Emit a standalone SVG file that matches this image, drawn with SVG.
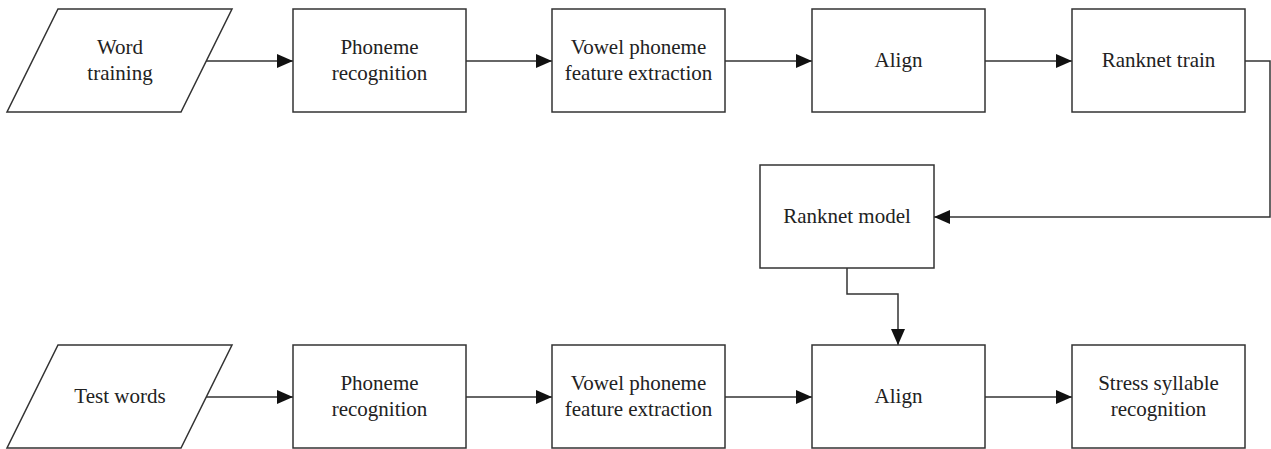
<svg xmlns="http://www.w3.org/2000/svg" width="1271" height="449" viewBox="0 0 1271 449">
<style>
.n{fill:#fff;stroke:#333;stroke-width:1.5}
.t{font-family:'Liberation Serif','DejaVu Serif',serif;font-size:21px;fill:#222;text-anchor:middle}
.c{fill:none;stroke:#333;stroke-width:1.5}
</style>
<defs>
<marker id="ah" markerWidth="16" markerHeight="14" refX="16" refY="7" orient="auto" markerUnits="userSpaceOnUse">
<path d="M0,0 L16,7 L0,14 Z" fill="#111"/>
</marker>
</defs>
<rect width="1271" height="449" fill="#fff"/>
<g id="connectors">
<line class="c" x1="206" y1="61" x2="293" y2="61" marker-end="url(#ah)"/>
<line class="c" x1="466" y1="61" x2="552" y2="61" marker-end="url(#ah)"/>
<line class="c" x1="725" y1="61" x2="812" y2="61" marker-end="url(#ah)"/>
<line class="c" x1="985" y1="61" x2="1072" y2="61" marker-end="url(#ah)"/>
<polyline class="c" points="1245,61 1270,61 1270,217 934,217" marker-end="url(#ah)"/>
<polyline class="c" points="847,268 847,294 898,294 898,345" marker-end="url(#ah)"/>
<line class="c" x1="206" y1="397" x2="293" y2="397" marker-end="url(#ah)"/>
<line class="c" x1="466" y1="397" x2="552" y2="397" marker-end="url(#ah)"/>
<line class="c" x1="725" y1="397" x2="812" y2="397" marker-end="url(#ah)"/>
<line class="c" x1="985" y1="397" x2="1072" y2="397" marker-end="url(#ah)"/>
</g>
<g id="word-training">
<polygon class="n" points="58,9 232,9 181,112 7,112"/>
<text class="t" x="120" y="54" font-family="Liberation Serif, serif">Word</text>
<text class="t" x="120" y="80" font-family="Liberation Serif, serif">training</text>
</g>
<g id="phoneme-rec-1">
<rect class="n" x="293" y="9" width="173" height="103"/>
<text class="t" x="379.5" y="54">Phoneme</text>
<text class="t" x="379.5" y="80">recognition</text>
</g>
<g id="vowel-1">
<rect class="n" x="552" y="9" width="173" height="103"/>
<text class="t" x="638.5" y="54">Vowel phoneme</text>
<text class="t" x="638.5" y="80">feature extraction</text>
</g>
<g id="align-1">
<rect class="n" x="812" y="9" width="173" height="103"/>
<text class="t" x="898.5" y="67">Align</text>
</g>
<g id="ranknet-train">
<rect class="n" x="1072" y="9" width="173" height="103"/>
<text class="t" x="1158.5" y="67">Ranknet train</text>
</g>
<g id="ranknet-model">
<rect class="n" x="760" y="165" width="174" height="103"/>
<text class="t" x="847" y="223">Ranknet model</text>
</g>
<g id="test-words">
<polygon class="n" points="58,345 232,345 181,448 7,448"/>
<text class="t" x="120" y="403">Test words</text>
</g>
<g id="phoneme-rec-2">
<rect class="n" x="293" y="345" width="173" height="103"/>
<text class="t" x="379.5" y="390">Phoneme</text>
<text class="t" x="379.5" y="416">recognition</text>
</g>
<g id="vowel-2">
<rect class="n" x="552" y="345" width="173" height="103"/>
<text class="t" x="638.5" y="390">Vowel phoneme</text>
<text class="t" x="638.5" y="416">feature extraction</text>
</g>
<g id="align-2">
<rect class="n" x="812" y="345" width="173" height="103"/>
<text class="t" x="898.5" y="403">Align</text>
</g>
<g id="stress">
<rect class="n" x="1072" y="345" width="173" height="103"/>
<text class="t" x="1158.5" y="390">Stress syllable</text>
<text class="t" x="1158.5" y="416">recognition</text>
</g>
</svg>
